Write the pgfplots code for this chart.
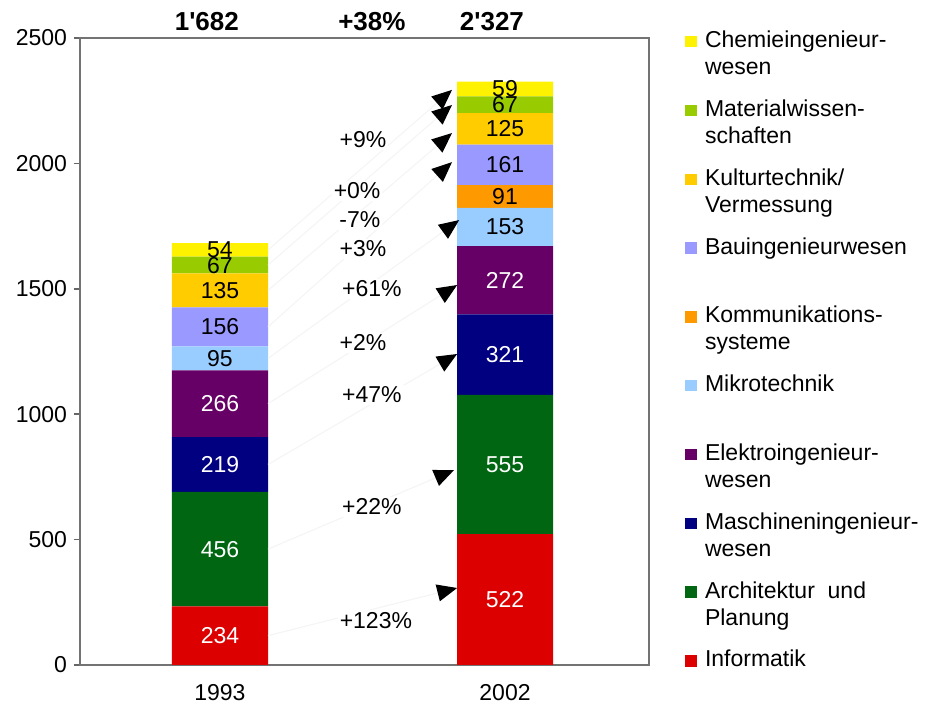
\documentclass[border=0pt]{standalone}
\usepackage{fontspec}
\setmainfont{Liberation Sans}[Ligatures=TeXOff]
\usepackage{pgfplots}
\pgfplotsset{compat=1.18}
\usetikzlibrary{arrows.meta}
\definecolor{cInfo}{HTML}{DD0000}
\definecolor{cArch}{HTML}{006612}
\definecolor{cMasch}{HTML}{000080}
\definecolor{cElek}{HTML}{660066}
\definecolor{cMikro}{HTML}{99CCFF}
\definecolor{cKomm}{HTML}{FF9900}
\definecolor{cBau}{HTML}{9999FF}
\definecolor{cKult}{HTML}{FFCC00}
\definecolor{cMat}{HTML}{99CC00}
\definecolor{cChem}{HTML}{FFF200}
\newcommand{\lf}{\fontsize{11.5}{13.5}\selectfont}
\newcommand{\LE}[1]{\parbox[t]{110pt}{\lf\strut #1}}
\begin{document}
\begin{tikzpicture}
\path (-40pt,-19.5pt) rectangle (424pt,332.5pt);
\begin{axis}[
  scale only axis, width=284.5pt, height=313.5pt,
  xmin=-0.491, xmax=1.505, ymin=0, ymax=2500,
  ybar stacked, bar width=0.337,
  legend image code/.code={\path[fill=none,draw=none] (0pt,0pt) rectangle (6pt,-34.4pt); \fill[#1] (0pt,-9.3pt) rectangle (6pt,-3.6pt);},
  xtick={0,1}, xticklabels={1993,2002},
  ytick={0,500,1000,1500,2000,2500},
  ytick pos=left, tick align=outside, major tick length=3pt,
  major x tick style={draw=none},
  tick style={black!60, line width=0.8pt},
  axis line style={black!55, line width=1pt},
  tick label style={font=\lf},
  /pgf/number format/assume math mode=true,
  /pgf/number format/set thousands separator={},
  xticklabel style={yshift=-3pt},
  visualization depends on=rawy\as\rawy,
  nodes near coords={\pgfmathparse{\rawy>0}\ifdim\pgfmathresult pt>0.5pt\pgfmathprintnumber{\rawy}\fi},
  every node near coord/.append style={anchor=center, font=\lf, inner sep=0pt},
  reverse legend,
  legend style={draw=none, fill=none, inner sep=0pt, outer sep=0pt,
    at={(1.0633,1.0147)}, anchor=north west, column sep=4pt, row sep=0pt,
    cells={anchor=north west}, nodes={inner sep=0pt, outer sep=0pt}},
]
\addplot[draw=none, fill=cInfo, every node near coord/.append style={text=white}] coordinates {(0,234) (1,522)};
\addlegendentry{\LE{Informatik}}
\addplot[draw=none, fill=cArch, every node near coord/.append style={text=white}] coordinates {(0,456) (1,555)};
\addlegendentry{\LE{Architektur\ \ und\\Planung}}
\addplot[draw=none, fill=cMasch, every node near coord/.append style={text=white}] coordinates {(0,219) (1,321)};
\addlegendentry{\LE{Maschineningenieur-\\wesen}}
\addplot[draw=none, fill=cElek, every node near coord/.append style={text=white}] coordinates {(0,266) (1,272)};
\addlegendentry{\LE{Elektroingenieur-\\wesen}}
\addplot[draw=none, fill=cMikro, every node near coord/.append style={text=black}] coordinates {(0,95) (1,153)};
\addlegendentry{\LE{Mikrotechnik}}
\addplot[draw=none, fill=cKomm, every node near coord/.append style={text=black}] coordinates {(0,0) (1,91)};
\addlegendentry{\LE{Kommunikations-\\systeme}}
\addplot[draw=none, fill=cBau, every node near coord/.append style={text=black}] coordinates {(0,156) (1,161)};
\addlegendentry{\LE{Bauingenieurwesen}}
\addplot[draw=none, fill=cKult, every node near coord/.append style={text=black}] coordinates {(0,135) (1,125)};
\addlegendentry{\LE{Kulturtechnik/\\Vermessung}}
\addplot[draw=none, fill=cMat, every node near coord/.append style={text=black}] coordinates {(0,67) (1,67)};
\addlegendentry{\LE{Materialwissen-\\schaften}}
\addplot[draw=none, fill=cChem, every node near coord/.append style={text=black}] coordinates {(0,54) (1,59)};
\addlegendentry{\LE{Chemieingenieur-\\wesen}}
\end{axis}
\begin{axis}[
  scale only axis, width=284.5pt, height=313.5pt,
  xmin=-0.491, xmax=1.505, ymin=0, ymax=2500,
  axis lines=none, clip=false,
]
\pgfplotsset{arr/.style={draw=black!4, line width=0.6pt, -{Triangle[length=10pt,width=8.5pt,color=black,fill=black]}}}
\addplot[arr] coordinates {(0.1685,117) (0.832,307)};
\addplot[arr] coordinates {(0.1685,462) (0.821,777)};
\addplot[arr] coordinates {(0.1685,799.5) (0.832,1240)};
\addplot[arr] coordinates {(0.1685,1042) (0.832,1515)};
\addplot[arr] coordinates {(0.1685,1222.5) (0.839,1774)};
\addplot[arr] coordinates {(0.1685,1348) (0.814,2005)};
\addplot[arr] coordinates {(0.1685,1493.5) (0.814,2121)};
\addplot[arr] coordinates {(0.1685,1594.5) (0.814,2233)};
\addplot[arr] coordinates {(0.1685,1655) (0.814,2293)};
\addplot[draw=none, mark=none, nodes near coords, point meta=explicit symbolic,
  every node near coord/.style={anchor=center, font=\lf, fill=white, inner sep=1pt}] coordinates {
  (0.502,2093) [+9\%]
  (0.481,1890) [+0\%]
  (0.491,1774) [-7\%]
  (0.502,1659) [+3\%]
  (0.533,1499) [+61\%]
  (0.502,1284) [+2\%]
  (0.533,1077) [+47\%]
  (0.533,630) [+22\%]
  (0.547,179) [+123\%]
};
\addplot[draw=none, mark=none, nodes near coords, point meta=explicit symbolic,
  every node near coord/.style={anchor=center, font=\fontsize{13}{15}\selectfont\bfseries, inner sep=0pt}] coordinates {
  (-0.046,2564) [1'682]
  (0.533,2564) [+38\%]
  (0.954,2564) [2'327]
};
\end{axis}
\end{tikzpicture}
\end{document}
